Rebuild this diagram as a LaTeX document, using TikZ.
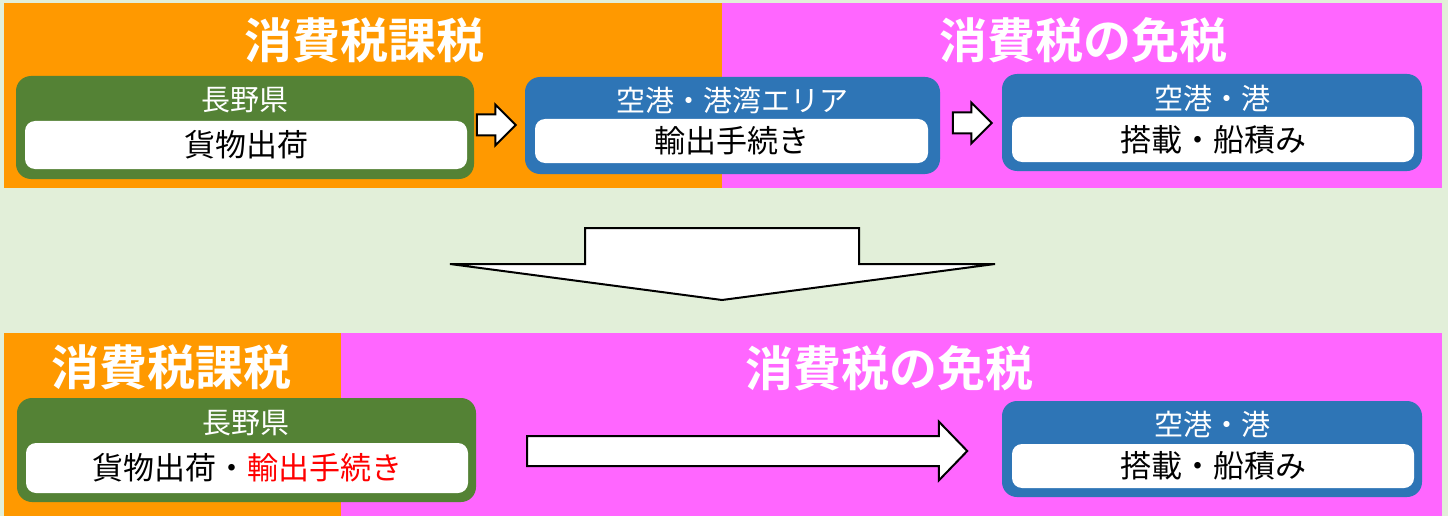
\documentclass[tikz,border=0pt]{standalone}
\usepackage{fontspec}
\setmainfont{Noto Sans CJK JP}[BoldFont={Noto Sans CJK JP Bold}]
\usetikzlibrary{shapes.arrows,calc,positioning}
\definecolor{bgcol}{HTML}{E2EFD9}
\definecolor{taxcol}{HTML}{FF9900}
\definecolor{freecol}{HTML}{FF66FF}
\definecolor{kencol}{HTML}{548235}
\definecolor{portcol}{HTML}{2E75B6}
\definecolor{redcol}{HTML}{FF0000}

\begin{document}
\begin{tikzpicture}[x=1pt, y=-1pt,
    title/.style={text=white, inner sep=0pt, font=\fontsize{48}{48}\selectfont\bfseries},
    outerbox/.style={fill=#1, rounded corners=15pt, inner sep=0pt, outer sep=0pt},
    innerbox/.style={fill=white, rounded corners=10pt, inner sep=0pt, outer sep=0pt, font=\fontsize{31}{31}\selectfont},
    place/.style={text=white, inner sep=0pt, font=\fontsize{29}{29}\selectfont},
    blockarrow/.style={single arrow, draw=black, line width=2pt, fill=white, inner sep=0pt, outer sep=0pt, text depth=0pt, single arrow head indent=0pt}
]
    % background and bands
    \fill[bgcol, use as bounding box] (0,0) rectangle (1448,516);
    \fill[taxcol] (4,3) rectangle (722,188);
    \fill[freecol] (722,3) rectangle (1442,188);
    \fill[taxcol] (4,333) rectangle (341,516);
    \fill[freecol] (341,333) rectangle (1442,516);

    % titles
    \node[title] (tax1) at (364,40) {消費税課税};
    \node[title] (free1) at (1083,40) {消費税の免税};
    \node[title] (tax2) at (171,367) {消費税課税};
    \node[title] (free2) at (889,368) {消費税の免税};

    % top row
    \node[outerbox=kencol, minimum width=458pt, minimum height=103pt] (ken1) at (245,127.5) {};
    \node[place] (ken1label) at (245,100) {長野県};
    \node[innerbox, minimum width=442pt, minimum height=48pt] (cargo1) at (246,145) {貨物出荷};

    \node[outerbox=portcol, minimum width=415pt, minimum height=97pt] (port1) at (732.5,125.5) {};
    \node[place] (port1label) at (732,100) {空港・港湾エリア};
    \node[innerbox, minimum width=393pt, minimum height=44pt] (export1) at (731.5,141) {輸出手続き};

    \node[outerbox=portcol, minimum width=420pt, minimum height=97pt] (port2) at (1212,122.5) {};
    \node[place] (port2label) at (1212,98) {空港・港};
    \node[innerbox, minimum width=402pt, minimum height=45pt] (load1) at (1213,139.5) {搭載・船積み};

    \node[blockarrow, text height=19pt, minimum height=39pt, single arrow head extend=10pt] (a1) at (491,125) {};
    \node[blockarrow, text height=19pt, minimum height=39pt, single arrow head extend=10pt] (a2) at (967,123) {};

    % down arrow
    \coordinate (dn) at (722,264);
    \draw[line width=2pt, fill=white] ($(dn)+(-137,0)$) -- ++(0,-36) -- ++(274,0) -- ++(0,36)
        -- ($(dn)+(273,0)$) -- ($(dn)+(0,36)$) -- ($(dn)+(-272,0)$) -- cycle;

    % bottom row
    \node[outerbox=kencol, minimum width=459pt, minimum height=104pt] (ken2) at (246.5,450) {};
    \node[place] (ken2label) at (246,423) {長野県};
    \node[innerbox, minimum width=442pt, minimum height=50pt] (cargo2) at (247,468) {貨物出荷・\textcolor{redcol}{輸出手続き}};

    \node[outerbox=portcol, minimum width=420pt, minimum height=96pt] (port3) at (1212,449) {};
    \node[place] (port3label) at (1212,424) {空港・港};
    \node[innerbox, minimum width=402pt, minimum height=44pt] (load2) at (1213,466) {搭載・船積み};

    \node[blockarrow, text height=28pt, minimum height=440pt, single arrow head extend=14.5pt, single arrow tip angle=92] (a3) at (740,451) {};
\end{tikzpicture}
\end{document}
